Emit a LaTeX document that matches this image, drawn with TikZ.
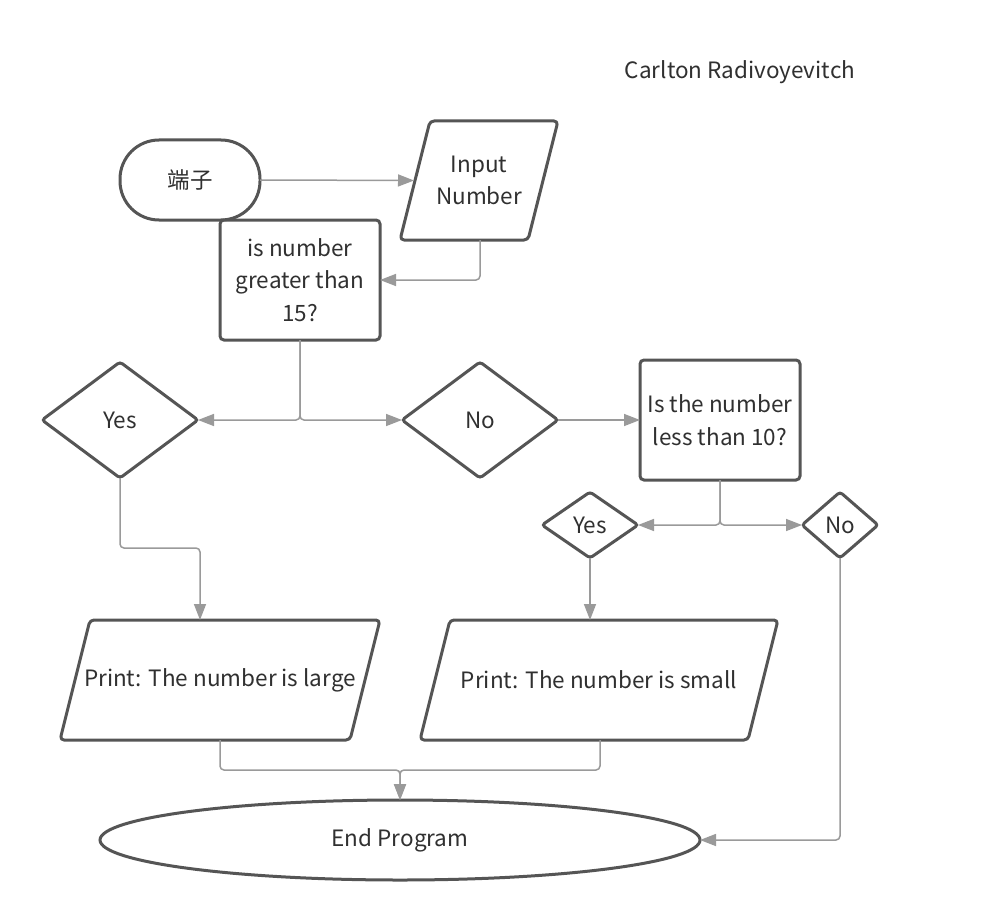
\documentclass[tikz,border=0pt]{standalone}
\usepackage{fontspec}
\setmainfont{Noto Sans CJK SC}
\usetikzlibrary{shapes.geometric,arrows.meta,calc}
\definecolor{edgec}{HTML}{555555}
\definecolor{connc}{HTML}{9A9A9A}
\definecolor{txtc}{HTML}{303030}
\tikzset{
  lbl/.style={text=txtc,font=\fontsize{22.5}{32.5}\selectfont,align=center,inner sep=0pt,outer sep=0pt},
  shp/.style={lbl,draw=edgec,line width=3pt},
  term/.style={shp,rectangle,rounded corners=39pt,minimum width=140pt,minimum height=80pt},
  procbox/.style={shp,rectangle,rounded corners=4pt,minimum width=160pt,minimum height=120pt},
  decide/.style={shp,diamond,rounded corners=3pt},
  endshape/.style={shp,ellipse,minimum width=600pt,minimum height=80pt},
  iobox/.style={lbl,rectangle,minimum height=120pt},
  ioline/.style={draw=edgec,line width=3pt,rounded corners=4pt,line join=round},
  conn/.style={draw=connc,line width=1.5pt,rounded corners=4pt,-{Triangle[length=16pt,width=12pt]}}
}
\begin{document}
\begin{tikzpicture}[x=1pt,y=-1pt]
\useasboundingbox[fill=white] (0,0) rectangle (1000,920);
\node[lbl] (author) at (740,72) {Carlton Radivoyevitch};
\node[term] (start) at (190,180) {端子};
\node[iobox,minimum width=158pt,minimum height=119pt] (inp) at (479,180.5) {Input\\Number};
\draw[ioline] ($(inp.north west)+(30,0)$) -- (inp.north east) -- ($(inp.south east)+(-30,0)$) -- (inp.south west) -- cycle;
\node[procbox] (gt) at (300,280) {is number\\greater than\\15?};
\node[decide,minimum width=156pt,minimum height=116pt] (yes) at (120,420) {Yes};
\node[decide,minimum width=156pt,minimum height=116pt] (no) at (480,420) {No};
\node[procbox] (lt) at (720,420) {Is the number\\less than 10?};
\node[decide,minimum width=96pt,minimum height=66pt] (yes2) at (590,525) {Yes};
\node[decide,minimum width=76pt,minimum height=66pt] (no2) at (840,525) {No};
\node[iobox,minimum width=320pt] (pl) at (220,680) {Print: The number is large};
\draw[ioline] ($(pl.north west)+(30,0)$) -- (pl.north east) -- ($(pl.south east)+(-30,0)$) -- (pl.south west) -- cycle;
\node[iobox,minimum width=358pt] (ps) at (599,680) {Print: The number is small};
\draw[ioline] ($(ps.north west)+(30,0)$) -- (ps.north east) -- ($(ps.south east)+(-30,0)$) -- (ps.south west) -- cycle;
\node[endshape] (end) at (400,840) {End Program};
% connectors
\draw[conn] (start.east) -- ($(inp.west)+(14,0)$);
\draw[conn] ([xshift=1pt]inp.south) |- (gt.east);
\draw[conn] (gt.south) |- (yes.east);
\draw[conn] (gt.south) |- (no.west);
\draw[conn] (no.east) -- (lt.west);
\draw[conn] (lt.south) |- (yes2.east);
\draw[conn] (lt.south) |- (no2.west);
\draw[conn] (yes.south) -- ++(0,70) -| ([xshift=-20pt]pl.north);
\draw[conn] (yes2.south) -- (yes2.south |- ps.north);
\draw[conn] (pl.south) -- ++(0,30) -| (end.north);
\draw[conn] ([xshift=1pt]ps.south) -- ++(0,30) -| (end.north);
\draw[conn] (no2.south) |- (end.east);
\end{tikzpicture}
\end{document}
